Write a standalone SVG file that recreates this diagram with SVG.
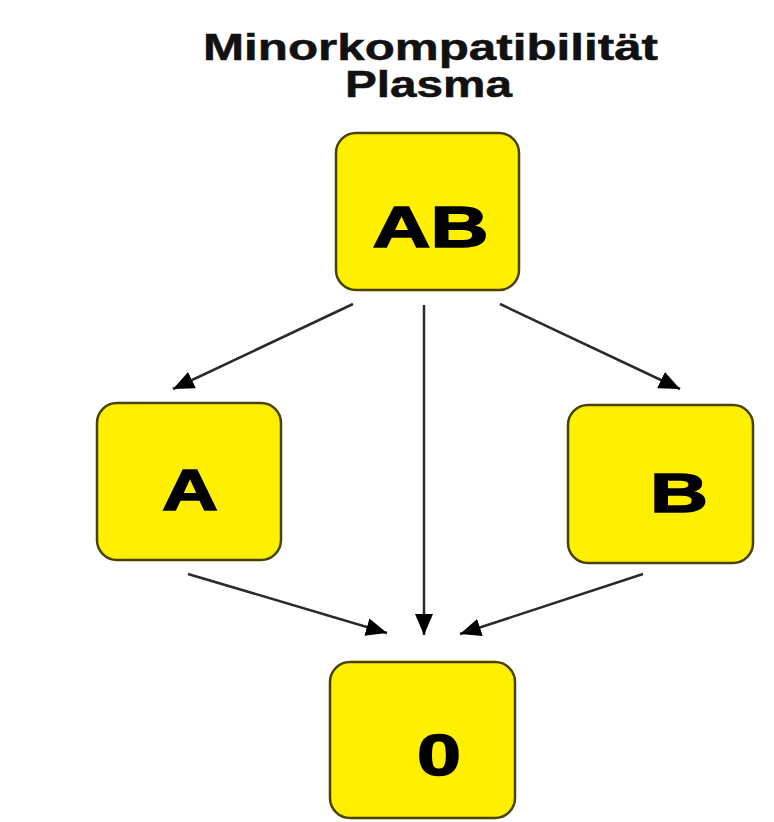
<svg xmlns="http://www.w3.org/2000/svg" width="774" height="822" viewBox="0 0 774 822">
  <style>
    .box { fill: #FFF000; stroke: #4a4200; stroke-width: 2.5; }
    .lbl { font-family: "Liberation Sans", Arial, sans-serif; font-weight: bold; fill: #000; stroke: #000; stroke-width: 1.5; text-anchor: middle; }
    .title { font-family: "Liberation Sans", Arial, sans-serif; font-weight: bold; fill: #111; stroke: #111; stroke-width: 0.5; text-anchor: middle; font-size: 36px; }
    .conn { stroke: #2a2a2a; stroke-width: 2.5; fill: none; marker-end: url(#arrow); }
  </style>
  <defs>
    <marker id="arrow" markerUnits="userSpaceOnUse" markerWidth="24" markerHeight="20" refX="21" refY="9" orient="auto">
      <path d="M0,0 L21,9 L0,18 z" fill="#000"/>
    </marker>
  </defs>
  <rect width="774" height="822" fill="#fff"/>
  <g id="title">
    <text class="title" x="430.5" y="60" textLength="455" lengthAdjust="spacingAndGlyphs">Minorkompatibilität</text>
    <text class="title" x="428.5" y="97" textLength="167" lengthAdjust="spacingAndGlyphs">Plasma</text>
  </g>
  <g id="connectors">
    <line class="conn" x1="353" y1="304" x2="173" y2="389"/>
    <line class="conn" x1="500" y1="304" x2="680" y2="389"/>
    <line class="conn" x1="424" y1="305" x2="424" y2="635"/>
    <line class="conn" x1="188" y1="574" x2="387" y2="633"/>
    <line class="conn" x1="643" y1="574" x2="460" y2="634"/>
  </g>
  <g id="node-AB">
    <rect class="box" x="336" y="133" width="183" height="157" rx="20"/>
    <text class="lbl" x="430.5" y="247" font-size="57" textLength="116" lengthAdjust="spacingAndGlyphs">AB</text>
  </g>
  <g id="node-A">
    <rect class="box" x="97" y="403" width="184" height="157" rx="20"/>
    <text class="lbl" x="190" y="510" font-size="58" textLength="56" lengthAdjust="spacingAndGlyphs">A</text>
  </g>
  <g id="node-B">
    <rect class="box" x="568" y="405" width="185" height="158" rx="20"/>
    <text class="lbl" x="679" y="512" font-size="56" textLength="58" lengthAdjust="spacingAndGlyphs">B</text>
  </g>
  <g id="node-0">
    <rect class="box" x="330" y="662" width="185" height="156" rx="20"/>
    <text class="lbl" x="439" y="775" font-size="58" textLength="44" lengthAdjust="spacingAndGlyphs">0</text>
  </g>
</svg>
